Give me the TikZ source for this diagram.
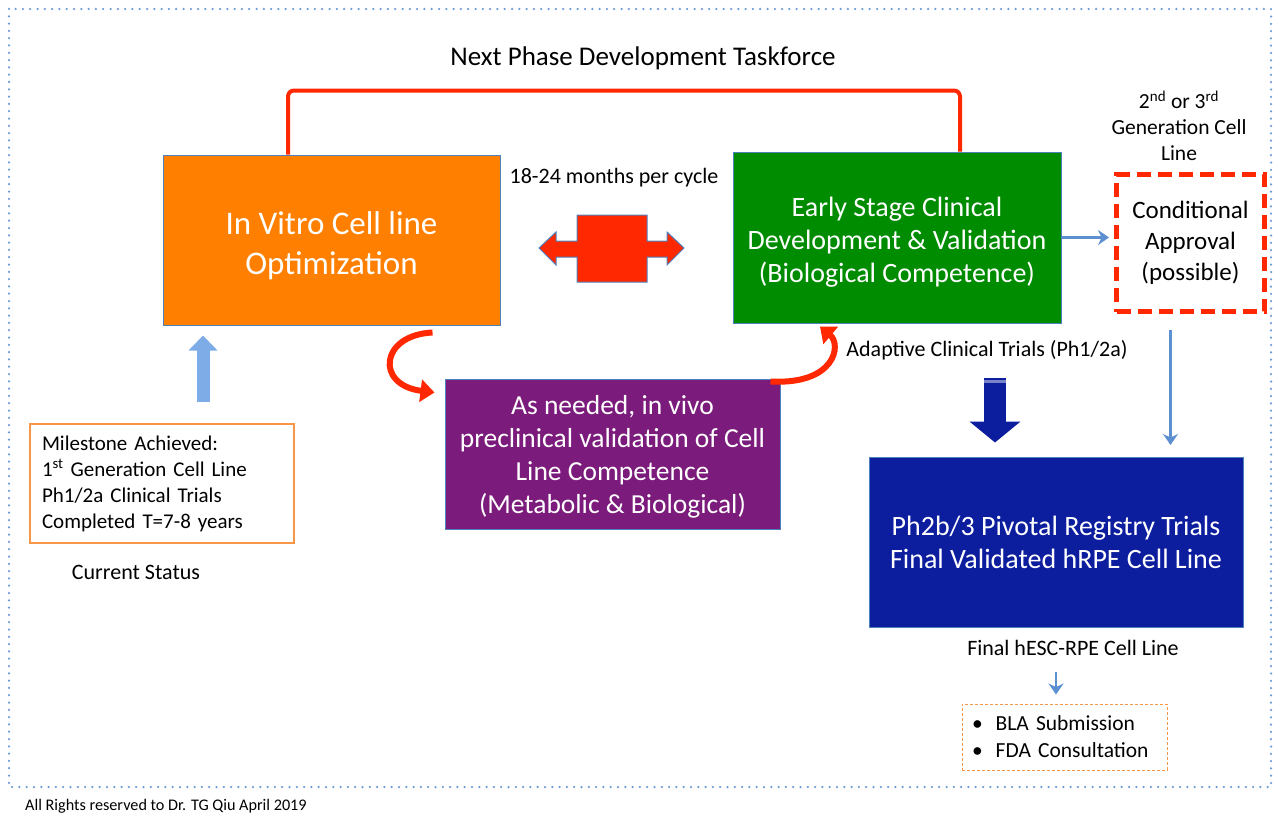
\documentclass[tikz,border=0pt]{standalone}
\usepackage{fontspec}
\setmainfont{Carlito}
\usetikzlibrary{arrows.meta}
\definecolor{boxorange}{RGB}{255,128,0}
\definecolor{boxgreen}{RGB}{0,140,0}
\definecolor{boxpurple}{RGB}{123,27,123}
\definecolor{boxblue}{RGB}{12,30,158}
\definecolor{shapeedge}{RGB}{79,129,189}
\definecolor{arrowred}{RGB}{255,40,0}
\definecolor{thinblue}{RGB}{91,143,208}
\definecolor{liteblue}{RGB}{125,172,230}
\definecolor{lineorange}{RGB}{247,150,70}
\definecolor{frameblue}{RGB}{110,155,214}
\tikzstyle{stagebox}=[shape = rectangle, draw = shapeedge, line width = 1pt, text = white, align = center, inner sep = 0pt, font = \fontsize{28}{33}\selectfont]
\tikzstyle{plaintext}=[inner sep = 0pt, align = center, font = \fontsize{22}{26}\selectfont]
\tikzstyle{thinarrow}=[draw = thinblue, line width = 3pt, -{Stealth[length = 11pt, width = 15pt]}]
\tikzstyle{curvearrow}=[draw = arrowred, line width = 6pt, -{Triangle[length = 14pt, width = 22pt]}]

\begin{document}
\begin{tikzpicture}[x = 1pt, y = -1pt]
\useasboundingbox (0,0) rectangle (1277,816);
\draw[frameblue, line width = 2.5pt, line cap = round, dash pattern = on 0pt off 7.3pt] (9,9) rectangle (1271,787);

\node[stagebox, fill = boxorange, minimum width = 337pt, minimum height = 170pt, font = \fontsize{33}{40}\selectfont] (invitro) at (331.5,240) {\rule{0pt}{34pt}In Vitro Cell line\\Optimization};
\node[stagebox, fill = boxgreen, minimum width = 328pt, minimum height = 171pt] (early) at (897,237.5) {\rule{0pt}{28pt}Early Stage Clinical\\Development \& Validation\\(Biological Competence)};
\node[stagebox, fill = boxpurple, minimum width = 335pt, minimum height = 150pt, font = \fontsize{27.5}{33}\selectfont] (invivo) at (612.5,454) {\rule{0pt}{24pt}As needed, in vivo\\preclinical validation of Cell\\Line Competence\\(Metabolic \& Biological)};
\node[stagebox, fill = boxblue, minimum width = 374pt, minimum height = 170pt] (pivotal) at (1056,542) {Ph2b/3 Pivotal Registry Trials\\Final Validated hRPE Cell Line};
\node[draw = arrowred, line width = 5pt, dash pattern = on 14pt off 7pt, minimum width = 148pt, minimum height = 137pt, inner sep = 0pt, align = center, font = \fontsize{25}{31}\selectfont] (condappr) at (1190.5,243) {Conditional\\Approval\\(possible)};
\node[draw = lineorange, line width = 1.5pt, minimum width = 264pt, minimum height = 119pt, inner sep = 0pt, text width = 240pt, align = left, font = \fontsize{21}{26}\selectfont] (milestone) at (162,483.5) {Milestone Achieved:\\1\textsuperscript{st} Generation Cell Line\\Ph1/2a Clinical Trials\\Completed T=7-8 years};
\node[draw = lineorange, line width = 1pt, dash pattern = on 3pt off 2pt, minimum width = 205pt, minimum height = 66pt, inner sep = 0pt, text width = 185pt, align = left, font = \fontsize{21.5}{27}\selectfont] (bla) at (1064.5,737) {\textbullet\hspace{13pt}BLA Submission\\\textbullet\hspace{13pt}FDA Consultation};

\node[plaintext, font = \fontsize{27}{30}\selectfont] (taskforce) at (643,58) {Next Phase Development Taskforce};
\node[plaintext] (cycle) at (614,178) {18-24 months per cycle};
\node[plaintext] (adaptive) at (987,350) {Adaptive Clinical Trials (Ph1/2a)};
\node[plaintext, font = \fontsize{21.5}{26}\selectfont] (nextgen) at (1179,126) {2\textsuperscript{nd} or 3\textsuperscript{rd}\\Generation Cell\\Line};
\node[plaintext] (status) at (136,572) {Current Status};
\node[plaintext] (finalline) at (1073,648) {Final hESC-RPE Cell Line};
\node[plaintext, anchor = west, font = \fontsize{16.2}{19}\selectfont] (rights) at (25,806) {All Rights reserved to Dr. TG Qiu April 2019};

\draw[draw = arrowred, line width = 4pt, rounded corners = 6pt] ([xshift = -43.5pt]invitro.north) -- ++(0,-64) -| ([xshift = 63pt]early.north);
\draw[fill = arrowred, draw = shapeedge, line width = 1pt] (539,248) -- (556,232) -- (556,241) -- (577,241) -- (577,215) -- (647,215) -- (647,241) -- (667,241) -- (667,232) -- (684,248) -- (667,265) -- (667,257) -- (647,257) -- (647,282) -- (577,282) -- (577,257) -- (556,257) -- (556,265) -- cycle;
\draw[curvearrow] ([shift = {(101,7)}]invitro.south) .. controls (380,335) and (375,385) .. ([shift = {(-10,14)}]invivo.north west);
\draw[curvearrow] ([shift = {(-10,3)}]invivo.north east) .. controls (835,385) and (842,345) .. ([shift = {(-77,3)}]early.south);
\draw[draw = liteblue, line width = 13pt, -{Triangle[length = 15pt, width = 28pt]}] ([shift = {(41,-21)}]milestone.north) -- ([shift = {(-128.5,10)}]invitro.south);
\draw[draw = boxblue, line width = 22pt, -{Triangle[length = 21pt, width = 50pt]}] ([shift = {(8,28)}]adaptive.center) -- ([shift = {(-61,-14)}]pivotal.north);
\draw[draw = boxblue!55!white, line width = 3pt] ([shift = {(-3,31)}]adaptive.center) -- ([shift = {(19,31)}]adaptive.center);
\draw[thinarrow, shorten > = 5pt] (early.east) -- (early.east -| condappr.west);
\draw[thinarrow] ([shift = {(-20,16)}]condappr.south) -- ++(0,115);
\draw[thinarrow, line width = 2.5pt] ([shift = {(-8.5,-32)}]bla.north) -- ([shift = {(-8.5,-9)}]bla.north);
\end{tikzpicture}
\end{document}
